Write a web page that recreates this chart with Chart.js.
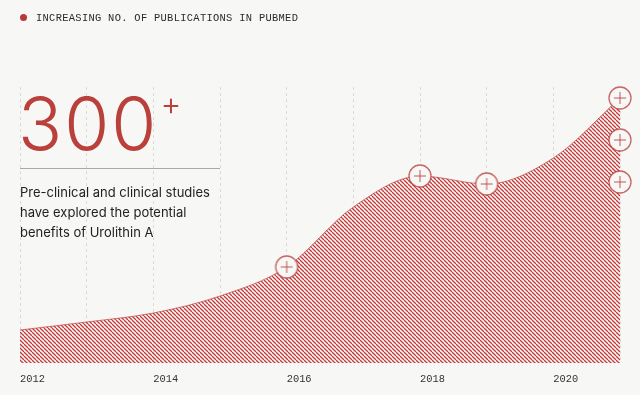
<!DOCTYPE html>
<html>
<head>
<meta charset="utf-8">
<script src="https://cdn.jsdelivr.net/npm/chart.js@4"></script>
<style>
  body { margin: 0; background: #f7f7f5; }
  #wrap { position: relative; width: 640px; height: 395px; background: #f7f7f5; overflow: hidden; }
  #chart { position: absolute; left: 0; top: 0; }
  .title { position: absolute; left: 20px; top: 12px; font: 10.4px 'Liberation Mono', monospace; color: #2a2a2a; letter-spacing: 0.32px; white-space: nowrap; }
  .title .dot { display: inline-block; width: 7px; height: 7px; border-radius: 50%; background: #b83a36; margin-right: 9px; vertical-align: 0px; }
  .big { position: absolute; left: 18px; top: 87px; font: 300 73px Inter, sans-serif; color: #b9403b; line-height: 1; letter-spacing: 2px; white-space: nowrap; }
  .big sup { font-size: 32px; font-weight: 300; vertical-align: top; position: relative; top: 1px; left: 2px; }
  .rule { position: absolute; left: 20px; top: 168px; width: 200px; height: 1px; background: #a8a8a8; }
  .para { position: absolute; left: 20px; top: 182px; font: 13px Inter, sans-serif; line-height: 20px; color: #222; }
</style>
</head>
<body>
<div id="wrap">
  <canvas id="chart" width="640" height="395"></canvas>
  <div class="title"><span class="dot"></span>INCREASING NO. OF PUBLICATIONS IN PUBMED</div>
  <div class="big">300<sup>+</sup></div>
  <div class="rule"></div>
  <div class="para">Pre-clinical and clinical studies<br>have explored the potential<br>benefits of Urolithin A</div>
</div>
<script>
// yearly publication curve
const years = [2012, 2013, 2014, 2015, 2016, 2017, 2018, 2019, 2020, 2021];
const counts = [33, 41, 50, 67, 96, 156, 187, 179, 205, 265];

// circled "+" markers
const markerYears = [2016, 2018, 2019, 2021, 2021, 2021];
const markerValues = [96, 187, 179, 265, 223, 181];

// labelled years on the axis
const tickYears = [2012, 2014, 2016, 2018, 2020];

function makeHatch() {
    const c = document.createElement('canvas');
    c.width = 4; c.height = 4;
    const g = c.getContext('2d');
    g.strokeStyle = 'rgba(190, 35, 35, 0.9)';
    g.lineWidth = 1.25;
    [-4, 0, 4].forEach(function(k) {
        g.beginPath();
        g.moveTo(k, 0);
        g.lineTo(k + 4, 4);
        g.stroke();
    });
    return g.createPattern(c, 'repeat');
}

function makeMarker() {
    const c = document.createElement('canvas');
    c.width = 26; c.height = 26;
    const g = c.getContext('2d');
    g.beginPath();
    g.arc(13, 13, 11, 0, Math.PI * 2);
    g.fillStyle = '#f7f7f5';
    g.fill();
    g.strokeStyle = 'rgba(185, 65, 65, 0.8)';
    g.lineWidth = 1.3;
    g.stroke();
    g.beginPath();
    g.moveTo(7, 13); g.lineTo(19, 13);
    g.moveTo(13, 7); g.lineTo(13, 19);
    g.strokeStyle = 'rgba(185, 65, 65, 0.85)';
    g.lineWidth = 1;
    g.stroke();
    return c;
}

const ctx = document.getElementById('chart').getContext('2d');

new Chart(ctx, {
    type: 'line',
    data: {
        datasets: [
            {
                type: 'scatter',
                label: 'Markers',
                data: markerYears.map((x, i) => ({ x: x, y: markerValues[i] })),
                pointStyle: makeMarker(),
                showLine: false,
                clip: false,
                order: 0
            },
            {
                label: 'Publications',
                data: years.map((x, i) => ({ x: x, y: counts[i] })),
                borderColor: 'rgba(190, 70, 70, 0.7)',
                borderWidth: 1,
                backgroundColor: makeHatch(),
                fill: 'origin',
                cubicInterpolationMode: 'monotone',
                pointRadius: 0,
                order: 1
            }
        ]
    },
    options: {
        responsive: false,
        devicePixelRatio: 1,
        animation: false,
        layout: { padding: { left: 20, right: 20, top: 87, bottom: 0 } },
        plugins: { legend: { display: false }, tooltip: { enabled: false } },
        scales: {
            x: {
                type: 'linear',
                min: 2012,
                max: 2021,
                afterFit: function(scale) { scale.height = 32; },
                grid: { color: '#dadada', lineWidth: 1, drawTicks: false },
                border: { display: false, dash: [3, 3] },
                ticks: {
                    stepSize: 1,
                    autoSkip: false,
                    align: 'start',
                    padding: 10,
                    color: '#333',
                    font: { family: 'Liberation Mono', size: 10.4 },
                    callback: function(v) { return tickYears.includes(v) ? String(v) : ''; }
                }
            },
            y: {
                display: false,
                min: 0,
                max: 276
            }
        }
    }
});
</script>
</body>
</html>
